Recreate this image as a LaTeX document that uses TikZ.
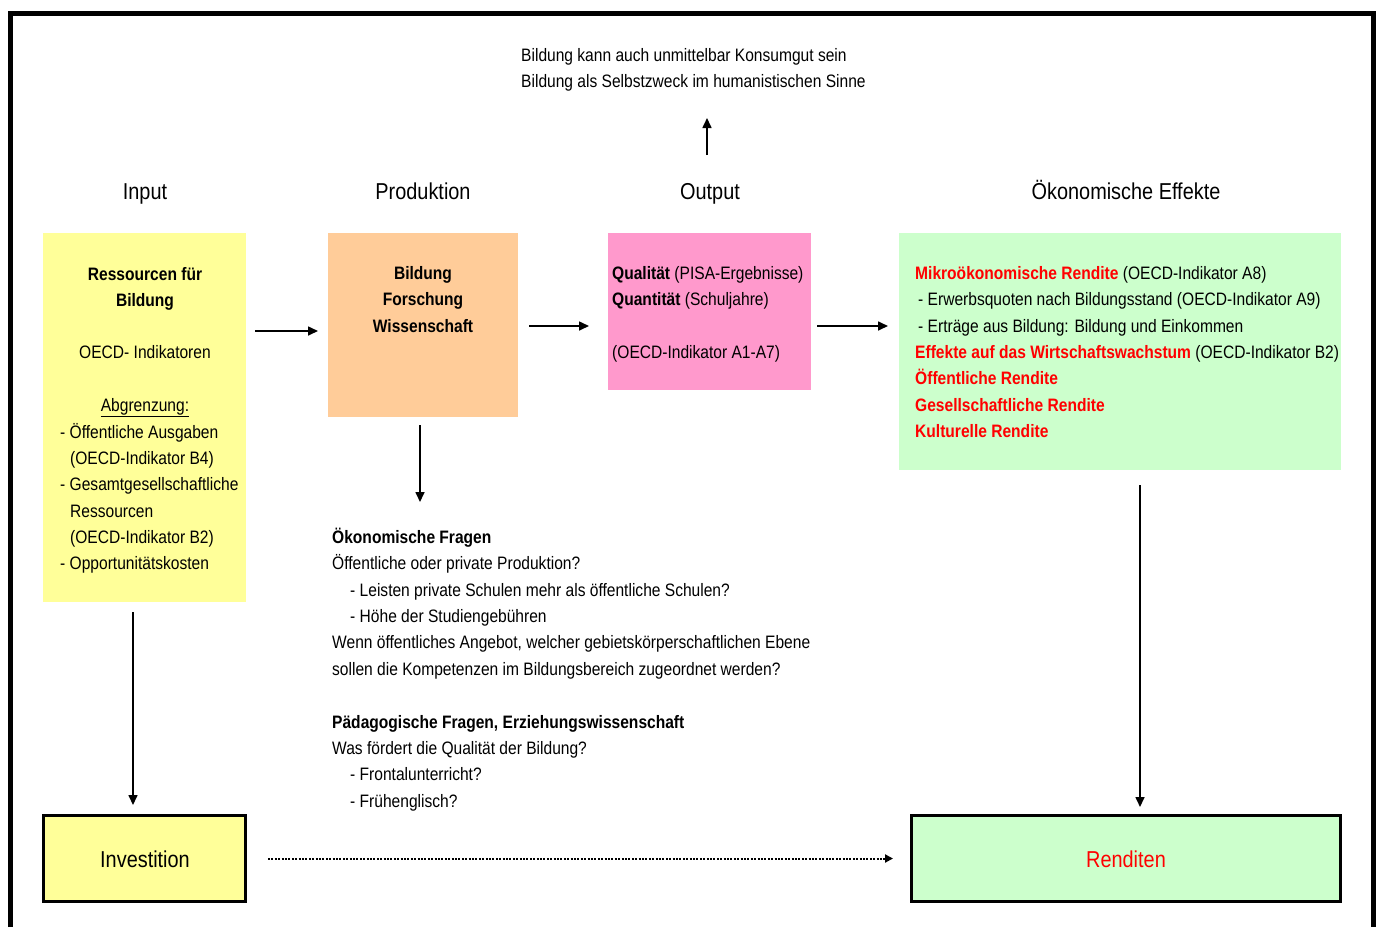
\documentclass[tikz,border=0pt]{standalone}
\usepackage{fontspec}
\setmainfont{Liberation Sans}[FakeStretch=0.865]
\usetikzlibrary{arrows.meta}
\definecolor{yel}{HTML}{FFFF99}
\definecolor{ora}{HTML}{FFCC99}
\definecolor{pnk}{HTML}{FF99CC}
\definecolor{grn}{HTML}{CCFFCC}
\definecolor{rd}{HTML}{FF0000}
\newcommand\bodyfs{\fontsize{18pt}{26pt}\selectfont}
\newcommand\headfs{\fontsize{23pt}{28pt}\selectfont}
\begin{document}
\begin{tikzpicture}[x=1pt,y=-1pt,
  box/.style={rectangle, inner sep=0, anchor=north west},
  tl/.style={anchor=base west, inner sep=0, font=\bodyfs, yshift=2pt},
  tc/.style={anchor=base, inner sep=0, font=\bodyfs, yshift=2pt},
  hd/.style={anchor=base, inner sep=0, font=\headfs},
  arr/.style={line width=1.6pt, -{Triangle[length=10pt,width=9pt]}},
  dots/.style={line width=2pt, dash pattern=on 2pt off 1.4pt, -{Triangle[length=8pt,width=8pt]}}
]
\useasboundingbox (0,0) rectangle (1381,927);
% outer frame
\draw[line width=5pt, line join=miter] (10.5,927) -- (10.5,13.5) -- (1373.5,13.5) -- (1373.5,927);

% boxes
\node[box, fill=yel, minimum width=203pt, minimum height=369pt] (inp) at (43,233) {};
\node[box, fill=ora, minimum width=190pt, minimum height=184pt] (prod) at (328,233) {};
\node[box, fill=pnk, minimum width=203pt, minimum height=157pt] (outp) at (608,233) {};
\node[box, fill=grn, minimum width=442pt, minimum height=237pt] (eff) at (899,233) {};
\node[box, fill=yel, draw=black, line width=3pt, minimum width=202pt, minimum height=86pt] (inv) at (42,814) {};
\node[box, fill=grn, draw=black, line width=3pt, minimum width=429pt, minimum height=86pt] (ren) at (910,814) {};

% top text
\node[tl] (top1) at (521,63) {Bildung kann auch unmittelbar Konsumgut sein};
\node[tl] (top2) at (521,89) {Bildung als Selbstzweck im humanistischen Sinne};

% headers
\node[hd] (hIn) at (145,199) {Input};
\node[hd] (hProd) at (423,199) {Produktion};
\node[hd] (hOut) at (710,199) {Output};
\node[hd] (hEff) at (1126,199) {Ökonomische Effekte};

% input box text
\node[tc] (i1) at (145,282) {\textbf{Ressourcen für}};
\node[tc] (i2) at (145,308) {\textbf{Bildung}};
\node[tc] (i3) at (145,360) {OECD- Indikatoren};
\node[tc] (i4) at (145,413) {\underline{Abgrenzung:}};
\node[tl] (i5) at (60,440) {- Öffentliche Ausgaben};
\node[tl] (i6) at (70,466) {(OECD-Indikator B4)};
\node[tl] (i7) at (60,492) {- Gesamtgesellschaftliche};
\node[tl] (i8) at (70,519) {Ressourcen};
\node[tl] (i9) at (70,545) {(OECD-Indikator B2)};
\node[tl] (i10) at (60,571) {- Opportunitätskosten};

% production text
\node[tc] (p1) at (423,281) {\textbf{Bildung}};
\node[tc] (p2) at (423,307) {\textbf{Forschung}};
\node[tc] (p3) at (423,334) {\textbf{Wissenschaft}};

% output text
\node[tl] (o1) at (612,281) {\textbf{Qualität} (PISA-Ergebnisse)};
\node[tl] (o2) at (612,307) {\textbf{Quantität} (Schuljahre)};
\node[tl] (o3) at (612,360) {(OECD-Indikator A1-A7)};

% effects text
\node[tl] (e1) at (915,281) {\textcolor{rd}{\textbf{Mikroökonomische Rendite}} (OECD-Indikator A8)};
\node[tl] (e2) at (918,307) {- Erwerbsquoten nach Bildungsstand (OECD-Indikator A9)};
\node[tl] (e3) at (918,334) {- Erträge aus Bildung: Bildung und Einkommen};
\node[tl] (e4) at (915,360) {\textcolor{rd}{\textbf{Effekte auf das Wirtschaftswachstum}} (OECD-Indikator B2)};
\node[tl, text=rd] (e5) at (915,386) {\textbf{Öffentliche Rendite}};
\node[tl, text=rd] (e6) at (915,413) {\textbf{Gesellschaftliche Rendite}};
\node[tl, text=rd] (e7) at (915,439) {\textbf{Kulturelle Rendite}};

% middle text
\node[tl] (m1) at (332,545) {\textbf{Ökonomische Fragen}};
\node[tl] (m2) at (332,571) {Öffentliche oder private Produktion?};
\node[tl] (m3) at (350,598) {- Leisten private Schulen mehr als öffentliche Schulen?};
\node[tl] (m4) at (350,624) {- Höhe der Studiengebühren};
\node[tl] (m5) at (332,650) {Wenn öffentliches Angebot, welcher gebietskörperschaftlichen Ebene};
\node[tl] (m6) at (332,677) {sollen die Kompetenzen im Bildungsbereich zugeordnet werden?};
\node[tl] (m7) at (332,730) {\textbf{Pädagogische Fragen, Erziehungswissenschaft}};
\node[tl] (m8) at (332,756) {Was fördert die Qualität der Bildung?};
\node[tl] (m9) at (350,782) {- Frontalunterricht?};
\node[tl] (m10) at (350,809) {- Frühenglisch?};

% bottom box labels
\node[hd] (invT) at (145,867) {Investition};
\node[hd, text=rd] (renT) at (1126,867) {Renditen};

% helper coordinates
\coordinate (r1) at (0,331);
\coordinate (r2) at (0,326);
\coordinate (xin) at (133,0);
\coordinate (xpr) at (420,0);
\coordinate (xef) at (1140,0);
\coordinate (upS) at (707,155);
\coordinate (upE) at (707,118);
\coordinate (prE) at (420,502);

% connectors
\draw[arr, shorten <=9pt, shorten >=10pt] (inp.east |- r1) -- (prod.west |- r1);
\draw[arr, shorten <=11pt, shorten >=19pt] (prod.east |- r2) -- (outp.west |- r2);
\draw[arr, shorten <=6pt, shorten >=11pt] (outp.east |- r2) -- (eff.west |- r2);
\draw[arr] (upS) -- (upE);
\draw[arr, shorten <=8pt] (prod.south -| xpr) -- (prE);
\draw[arr, shorten <=10pt, shorten >=9pt] (inp.south -| xin) -- (inv.north -| xin);
\draw[arr, shorten <=15pt, shorten >=7pt] (eff.south -| xef) -- (ren.north -| xef);
\draw[dots, shorten <=21pt, shorten >=17pt] (inv.east) -- (ren.west);
\end{tikzpicture}
\end{document}
